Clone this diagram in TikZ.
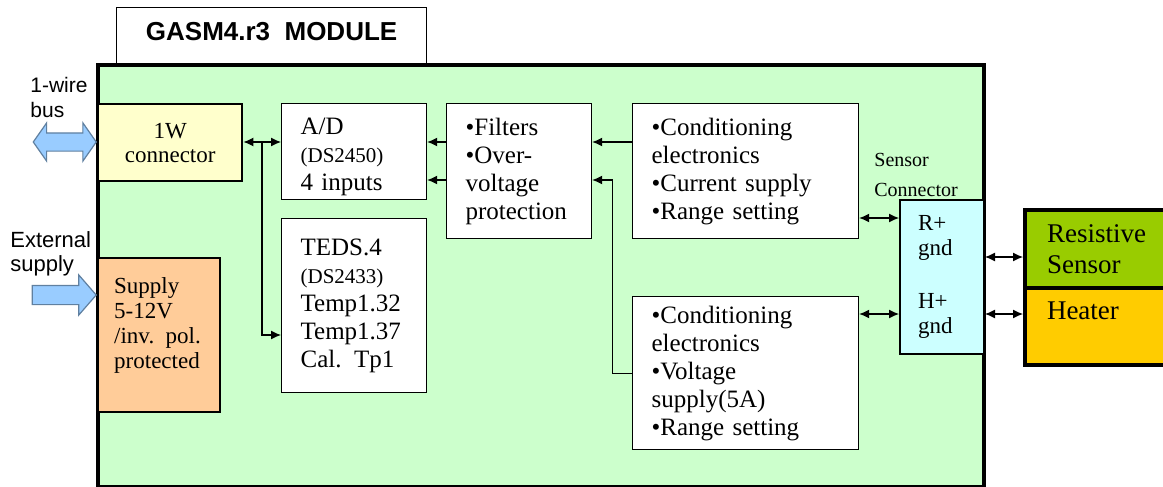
\documentclass[tikz,border=0pt]{standalone}
\usepackage{fontspec}
\setmainfont{Liberation Serif}
\newfontfamily\labelsans{Liberation Sans}
\usetikzlibrary{arrows.meta,shapes.arrows,calc}

\definecolor{modgreen}{HTML}{CCFFCC}
\definecolor{wireyellow}{HTML}{FFFFCC}
\definecolor{supplyorange}{HTML}{FFCC99}
\definecolor{connblue}{HTML}{CCFFFF}
\definecolor{sensgreen}{HTML}{99CC00}
\definecolor{heatyellow}{HTML}{FFCC00}
\definecolor{arrowblue}{HTML}{99CCFF}
\definecolor{arrowedge}{HTML}{6080A0}

\tikzset{
  blk/.style={draw, fill=white, line width=0.6pt, anchor=north west,
    inner xsep=9.5pt, inner ysep=0pt, align=left,
    font=\fontsize{12.5pt}{14pt}\selectfont},
  lbl/.style={anchor=north west, inner sep=0pt, align=left},
  link/.style={line width=0.6pt, -{Latex[length=5pt,width=4.5pt]}},
  dlink/.style={line width=0.6pt, {Latex[length=5pt,width=4.5pt]}-{Latex[length=5pt,width=4.5pt]}},
  bigarrow/.style={draw=arrowedge, fill=arrowblue, line width=0.6pt, inner sep=0pt}
}

\begin{document}
\begin{tikzpicture}[x=0.5pt,y=-0.5pt]
  \useasboundingbox (0,0) rectangle (1163,487);
  \clip (0,0) rectangle (1163,487);

  % module body and title tab
  \node[draw, line width=2pt, fill=modgreen, anchor=north west, inner sep=0pt,
    minimum width=443pt, minimum height=211pt] (mod) at (96,63) {};
  \node[draw, line width=0.6pt, fill=white, anchor=north west,
    minimum width=155pt, minimum height=28pt, text depth=4.5pt,
    font=\labelsans\bfseries\fontsize{13pt}{15pt}\selectfont] (tab) at (116,7) {GASM4.r3\ \ MODULE};

  % blocks
  \node[blk, fill=wireyellow, line width=1.2pt, minimum width=72pt, minimum height=38.5pt,
    align=center, inner xsep=0pt, font=\fontsize{11.5pt}{12pt}\selectfont] (w1) at (97,103) {1W\\connector};
  \node[blk, minimum width=72.5pt, minimum height=48pt, text width=53.5pt] (ad) at (281,103)
    {\rule{0pt}{14pt}A/D\\{\fontsize{10.5pt}{14pt}\selectfont (DS2450)}\\4 inputs};
  \node[blk, minimum width=72.5pt, minimum height=87pt, text width=53.5pt] (teds) at (281,218)
    {TEDS.4\\{\fontsize{10.5pt}{14pt}\selectfont (DS2433)}\\Temp1.32\\Temp1.37\\Cal. Tp1};
  \node[blk, minimum width=72.5pt, minimum height=67.5pt, text width=53.5pt] (filt) at (446,103)
    {•Filters\\•Over-\\voltage\\protection};
  \node[blk, minimum width=113pt, minimum height=67.5pt, text width=94pt] (ctop) at (632,103)
    {•Conditioning\\electronics\\•Current supply\\•Range setting};
  \node[blk, minimum width=113pt, minimum height=76.5pt, text width=94pt] (cbot) at (632,296)
    {•Conditioning\\electronics\\•Voltage\\supply(5A)\\•Range setting};
  \node[blk, fill=supplyorange, line width=1.2pt, minimum width=61pt, minimum height=77pt,
    text width=45pt, inner xsep=8pt, font=\fontsize{11.5pt}{12.5pt}\selectfont] (sup) at (97,257)
    {Supply\\5-12V\\/inv. pol.\\protected\\\mbox{}};
  \node[blk, fill=connblue, line width=1pt, minimum width=42pt, minimum height=77pt,
    text width=24pt, inner xsep=9pt, font=\fontsize{11.5pt}{12.5pt}\selectfont] (sc) at (899,199)
    {R+\\gnd\\[14pt]H+\\gnd};
  \node[blk, fill=sensgreen, line width=2pt, minimum width=75pt, minimum height=39pt,
    text width=55pt, inner xsep=11pt, font=\fontsize{13.5pt}{15.5pt}\selectfont] (res) at (1023,208)
    {Resistive\\Sensor};
  \node[blk, fill=heatyellow, line width=2pt, minimum width=75pt, minimum height=38.5pt,
    text width=55pt, inner xsep=11pt, font=\fontsize{13.5pt}{15.5pt}\selectfont] (heat) at (1023,286)
    {Heater\\\mbox{}};

  % outside labels
  \node[lbl, font=\labelsans\fontsize{10.5pt}{12.5pt}\selectfont] (buslbl) at (30,77) {1-wire\\bus};
  \node[lbl, font=\labelsans\fontsize{11pt}{12pt}\selectfont] (extlbl) at (10,231) {External\\supply};
  \node[lbl, font=\fontsize{10pt}{15pt}\selectfont] (sclbl) at (874,153) {Sensor\\Connector};

  % block arrows
  \node[bigarrow, double arrow, anchor=east, inner ysep=4.25pt, minimum height=31.5pt,
    double arrow head extend=5pt, double arrow tip angle=110] (wbus) at (97,142) {};
  \node[bigarrow, single arrow, anchor=tip, inner ysep=4.5pt, minimum height=32pt,
    single arrow head extend=5.25pt, single arrow tip angle=98] (psup) at (97,295) {};

  % connectors
  \coordinate (r1) at (0,142);
  \coordinate (r2) at (0,180);
  \coordinate (r3) at (0,218);
  \coordinate (r4) at (0,314);
  \coordinate (r5) at (0,257);
  \coordinate (r6) at (0,335);
  \coordinate (jn) at (262,142);

  \draw[dlink] (w1.east |- r1) -- (ad.west |- r1);
  \draw[link] (jn) |- (teds.west |- r6);
  \draw[link] (filt.west |- r1) -- (ad.east |- r1);
  \draw[link] (filt.west |- r2) -- (ad.east |- r2);
  \draw[link] (ctop.west |- r1) -- (filt.east |- r1);
  \draw[link] (cbot.west) -| ($(filt.east |- r2)+(20,0)$) -- (filt.east |- r2);
  \draw[dlink] (ctop.east |- r3) -- (sc.west |- r3);
  \draw[dlink] (cbot.east |- r4) -- (sc.west |- r4);
  \draw[dlink] (sc.east |- r5) -- (res.west |- r5);
  \draw[dlink] (sc.east |- r4) -- (heat.west |- r4);
\end{tikzpicture}
\end{document}
